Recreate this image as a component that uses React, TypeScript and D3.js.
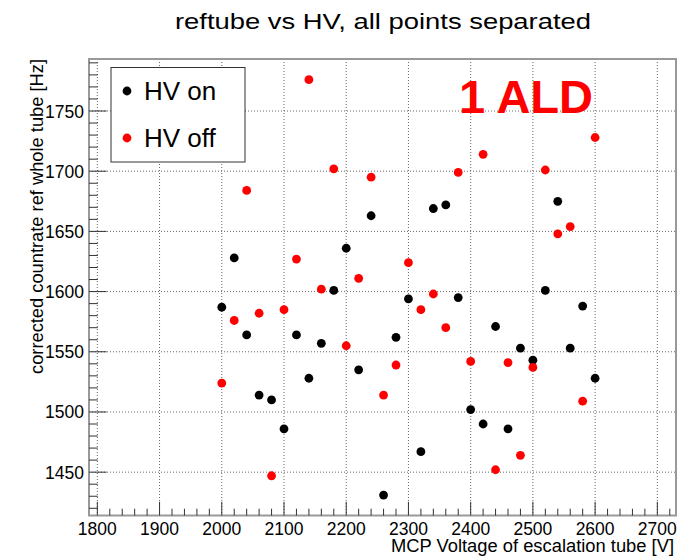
import React from "react";
import * as d3 from "d3";

const voltages = [2000, 2020, 2040, 2060, 2080, 2100, 2120, 2140, 2160, 2180, 2200, 2220, 2240, 2260, 2280, 2300, 2320, 2340, 2360, 2380, 2400, 2420, 2440, 2460, 2480, 2500, 2520, 2540, 2560, 2580, 2600];
const hvOn = [1587, 1628, 1564, 1514, 1510, 1486, 1564, 1528, 1557, 1601, 1636, 1535, 1663, 1431, 1562, 1594, 1467, 1669, 1672, 1595, 1502, 1490, 1571, 1486, 1553, 1543, 1601, 1675, 1553, 1588, 1528];
const hvOff = [1524, 1576, 1684, 1582, 1447, 1585, 1627, 1776, 1602, 1702, 1555, 1611, 1695, 1514, 1539, 1624, 1585, 1598, 1570, 1699, 1542, 1714, 1452, 1541, 1464, 1537, 1701, 1648, 1654, 1509, 1728];
const xTicks = [1800, 1900, 2000, 2100, 2200, 2300, 2400, 2500, 2600, 2700];
const yTicks = [1450, 1500, 1550, 1600, 1650, 1700, 1750];
const seriesNames = ["HV on", "HV off"];
const seriesColors = ["#000000", "#ff0000"];

const W = 687, H = 557;
const L = 89, R = 676, T = 59, B = 515.5;
const FONT = "'Liberation Sans', Arial, Helvetica, sans-serif";

export default function App() {
  const x = d3.scaleLinear().domain([1786.6, 2730]).range([L, R]);
  const y = d3.scaleLinear().domain([1414, 1793.2]).range([B, T]);

  const xMinor: number[] = [];
  for (let v = 1780; v <= 2730; v += 20) if (v >= 1786.6 && v % 100 !== 0) xMinor.push(v);
  const yMinor: number[] = [];
  for (let v = 1420; v <= 1790; v += 10) if (v % 50 !== 0) yMinor.push(v);

  const series = [hvOn, hvOff];

  return (
    <svg width={W} height={H} style={{ position: "absolute", left: 0, top: 0, background: "#fff" }} fontFamily={FONT}>
      <rect x={0} y={0} width={W} height={H} fill="#fff" />
      {/* grid */}
      {xTicks.map((t) => (
        <line key={"gx" + t} x1={x(t)} x2={x(t)} y1={T} y2={B} stroke="#666" strokeWidth={1} strokeDasharray="1 2" />
      ))}
      {yTicks.map((t) => (
        <line key={"gy" + t} x1={L} x2={R} y1={y(t)} y2={y(t)} stroke="#666" strokeWidth={1} strokeDasharray="1 2" />
      ))}
      {/* frame */}
      <rect x={L} y={T} width={R - L} height={B - T} fill="none" stroke="#999" strokeWidth={2} />
      {/* x ticks */}
      {xTicks.map((t) => (
        <line key={"tx" + t} x1={x(t)} x2={x(t)} y1={B} y2={B - 13.7} stroke="#333" strokeWidth={1} />
      ))}
      {xMinor.map((t) => (
        <line key={"mx" + t} x1={x(t)} x2={x(t)} y1={B} y2={B - 6.8} stroke="#333" strokeWidth={1} />
      ))}
      {xTicks.map((t) => (
        <text key={"lx" + t} x={x(t)} y={534.5} fontSize={17.5} textAnchor="middle" fill="#000">{t}</text>
      ))}
      {/* y ticks */}
      {yTicks.map((t) => (
        <line key={"ty" + t} x1={L} x2={L + 17.6} y1={y(t)} y2={y(t)} stroke="#333" strokeWidth={1} />
      ))}
      {yMinor.map((t) => (
        <line key={"my" + t} x1={L} x2={L + 8.8} y1={y(t)} y2={y(t)} stroke="#333" strokeWidth={1} />
      ))}
      {yTicks.map((t) => (
        <text key={"ly" + t} x={84} y={y(t) + 6.5} fontSize={17.5} textAnchor="end" fill="#000">{t}</text>
      ))}
      {/* axis titles */}
      <text x={674} y={552} fontSize={17.5} textAnchor="end" fill="#000" textLength={283} lengthAdjust="spacingAndGlyphs">MCP Voltage of escalation tube [V]</text>
      <text transform={`translate(43,${T}) rotate(-90)`} fontSize={17.5} textAnchor="end" fill="#000" textLength={315} lengthAdjust="spacingAndGlyphs">corrected countrate ref whole tube [Hz]</text>
      {/* title */}
      <text x={383} y={28.5} fontSize={21.5} textAnchor="middle" fill="#000" textLength={416} lengthAdjust="spacingAndGlyphs">reftube vs HV, all points separated</text>
      {/* points */}
      {series.map((s, si) =>
        s.map((v, i) => (
          <circle key={si + "-" + i} cx={x(voltages[i])} cy={y(v)} r={4.4} fill={seriesColors[si]} />
        ))
      )}
      {/* annotation */}
      <text x={526} y={113} fontSize={47} fontWeight="bold" textAnchor="middle" fill="#ff0000">1 ALD</text>
      {/* legend */}
      <rect x={111} y={67.5} width={134} height={94.5} fill="#fff" stroke="#333" strokeWidth={1} />
      {seriesNames.map((n, i) => (
        <g key={n}>
          <circle cx={127} cy={91 + i * 47} r={4.4} fill={seriesColors[i]} />
          <text x={144} y={91 + i * 47 + 9.3} fontSize={26} fill="#000">{n}</text>
        </g>
      ))}
    </svg>
  );
}
